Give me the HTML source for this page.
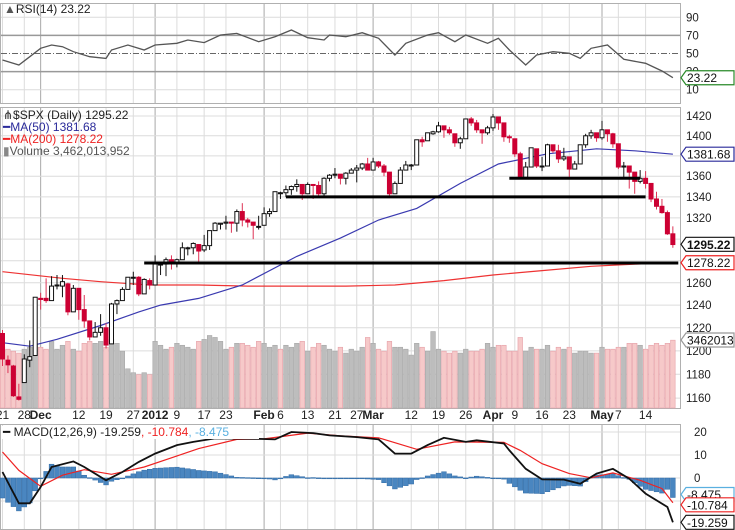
<!DOCTYPE html>
<html><head><meta charset="utf-8"><style>
html,body{margin:0;padding:0;background:#fff;}
svg{display:block;font-family:"Liberation Sans",sans-serif;}
</style></head><body>
<svg id="chart" width="735" height="530" viewBox="0 0 735 530" xmlns="http://www.w3.org/2000/svg"></svg>
<script>
// ---- data ----
const closes=[1193,1188,1162,1159,1193,1195,1247,
1245,1244,1257,1258,1261,1234,1255,1236,1226,1212,1216,1220,1205,1241,1244,1254,1265,1265,1250,1263,1258,
1277,1277,1281,1278,1281,1292,1292,1296,1289,1294,1308,1315,1315,1316,1315,1326,1318,1316,1313,1312,
1324,1326,1345,1344,1347,1350,1352,1343,1352,1351,1343,1358,1361,1362,1358,1363,1366,1368,1372,1366,
1374,1370,1364,1343,1353,1366,1371,1371,1396,1394,1403,1404,1410,1406,1403,1393,1397,1417,1413,1406,1403,1408,
1419,1413,1399,1398,1382,1359,1369,1388,1370,1370,1391,1385,1377,1379,1367,1372,1391,1400,1403,1398,
1406,1402,1392,1369,1370,1364,1355,1358,1353,1338,1331,1325,1305,1295];
const opens=[1215,1192,1187,1161,1173,1192,1196,
1246,1246,1244,1258,1257,1259,1234,1255,1236,1226,1212,1216,1220,1206,1241,1244,1254,1265,1265,1250,1262,
1258,1277,1277,1281,1278,1281,1292,1292,1295,1290,1294,1308,1314,1315,1316,1315,1326,1318,1316,1312,
1313,1324,1326,1344,1344,1347,1350,1352,1343,1352,1351,1343,1358,1361,1362,1358,1363,1366,1368,1372,
1366,1374,1370,1364,1343,1353,1366,1371,1371,1396,1395,1402,1404,1410,1406,1402,1393,1397,1417,1413,1406,1403,
1408,1419,1413,1399,1397,1382,1359,1369,1387,1370,1370,1391,1385,1377,1379,1367,1372,1391,1400,1403,
1398,1406,1402,1392,1369,1370,1364,1355,1358,1353,1338,1331,1325,1305];
const highs=[1218,1196,1188,1172,1197,1209,1247,
1251,1264,1266,1267,1267,1260,1258,1255,1249,1226,1225,1232,1224,1242,1245,1256,1265,1270,1266,1264,1264,
1285,1279,1283,1285,1282,1297,1293,1297,1295,1304,1308,1316,1315,1322,1316,1328,1334,1320,1314,1322,
1330,1329,1345,1345,1351,1351,1357,1352,1354,1351,1355,1359,1362,1368,1362,1364,1368,1371,1373,1378,
1378,1375,1372,1364,1355,1369,1375,1372,1396,1399,1403,1405,1414,1410,1409,1402,1399,1417,1419,1416,1404,1410,
1422,1419,1413,1401,1397,1384,1374,1388,1387,1379,1392,1391,1391,1388,1379,1375,1391,1402,1406,1403,
1415,1405,1403,1392,1374,1369,1363,1366,1365,1353,1345,1338,1327,1312];
const lows=[1187,1181,1161,1158,1173,1186,1196,
1236,1242,1244,1254,1247,1231,1234,1227,1220,1209,1212,1213,1202,1206,1232,1244,1254,1258,1248,1250,1254,
1258,1267,1266,1272,1274,1281,1285,1286,1277,1288,1290,1308,1309,1309,1306,1307,1312,1311,1300,1309,
1313,1321,1326,1338,1340,1342,1345,1337,1343,1338,1340,1341,1355,1358,1352,1352,1363,1354,1366,1366,
1366,1368,1360,1340,1343,1353,1366,1366,1371,1389,1395,1401,1403,1398,1401,1389,1387,1397,1410,1403,1392,1401,
1405,1406,1394,1393,1379,1357,1359,1369,1368,1365,1370,1383,1373,1375,1358,1367,1372,1388,1397,1394,
1396,1394,1388,1367,1357,1348,1343,1353,1348,1335,1328,1324,1304,1292];
const volumes=[3100,3000,2900,2800,3000,3100,3200,
3100,3000,3400,3000,3200,3400,3000,2900,3300,3400,3300,3400,3100,3500,3300,2900,2000,1800,1700,1800,1700,
3400,3200,3000,3100,3300,3200,3100,3000,3400,3500,3700,3600,3400,3000,3100,3300,3300,3200,3100,3400,
3300,3100,3200,3000,3200,3100,3300,3400,2900,3100,3300,3200,3000,2900,3100,2800,3000,2900,3100,3600,
3300,3000,2900,3400,3100,3100,3000,2700,3300,3100,2900,3900,3000,2900,2800,2900,2800,3000,2900,2900,3000,3300,
3100,3200,3200,2900,2900,3600,2900,3100,3000,3000,3200,2900,3100,3000,3100,2800,2900,2900,2800,2800,
3100,3000,3000,3100,3100,3300,3300,3200,3000,3200,3300,3200,3300,3460];
const ma50Idx=[0,5,10,18,25,29,36,44,54,62,69,76,84,91,100,109,116,123];
const ma50Val=[1207,1204,1210,1222,1234,1240,1246,1258,1284,1301,1318,1329,1353,1372,1382,1387,1385,1381.68];
const ma200Idx=[0,11,18,27,36,45,54,63,72,81,90,99,108,116,123];
const ma200Val=[1270,1264,1261,1258,1258,1257,1257,1257,1258,1262,1267,1271,1275,1277,1278.22];
const rsiIdx=[0,3,5,7,9,11,13,16,19,20,23,26,28,32,34,37,40,43,47,50,53,56,59,60,63,66,69,72,74,78,80,83,85,89,91,93,96,98,101,104,106,108,111,114,118,121,123];
const rsiVal=[42.8,37.3,46.5,55.7,59.4,57.5,52,46.5,44.6,53.9,59.4,53.9,59.4,61.3,64.9,62,70.4,72.2,63,68.6,76,67.5,64.9,70.4,68.6,73,66.8,48.3,61.3,70.4,73,63,70.4,61.3,66.8,53.9,37.3,48.3,52,50.2,44.6,55.7,59.4,43.6,39.2,30.7,23.22];
const macdIdx=[0,3,5,7,9,13,15,19,22,25,28,32,35,39,47,50,53,57,60,65,69,72,75,78,81,85,87,92,93,96,99,103,106,109,112,115,118,122,123];
const macdVal=[2.6,-11,-11,-3.9,4.8,7.2,4.8,-1,2.6,7,10.6,14.3,15.7,17.2,17,16.8,20,19.5,18.5,17.8,16.8,10.6,10.6,14.3,17.5,15.7,16.4,15,12,4,-0.6,-0.7,-2.5,1.9,4,-0.3,-6.8,-12.6,-19.259];
const sigIdx=[0,3,7,11,15,20,26,31,36,43,48,56,62,69,76,83,92,95,99,104,108,112,117,121,123];
const sigVal=[11.3,3.3,-3.6,1.2,3.6,1.6,4.8,8.8,12.8,16.8,17,19.5,18.3,17.5,12.5,15.7,15.5,12,6.2,1.9,0.1,2.2,-1,-4.6,-10.784];
const supportVal=[1278,1340,1358];
const supportFrom=[26,52,93];
const supportTo=[124,118,117];
const tickIdx=[0,4,7,14,19,24,28,32,37,41,48,51,56,61,65,68,75,80,85,90,94,99,104,110,113,118];
const tickLbl=["21","28","Dec","12","19","27","2012","9","17","23","Feb","6","13","21","27","Mar","12","19","26","Apr","9","16","23","May","7","14"];
const tickMajor=[0,0,1,0,0,0,1,0,0,0,1,0,0,0,0,1,0,0,0,1,0,0,0,1,0,0];
const priceTicks=[1160,1180,1200,1220,1240,1260,1280,1300,1320,1340,1360,1380,1400,1420];
const rsiTicks=[90,70,50,30,10];
const macdTicks=[20,10,0,-10];

// ---- scales ----
const R=680, N=closes.length;
const xs=i=>2.5+i*5.45;
const yP=v=>116+1395*Math.log(1420/v);
const yR=v=>17.3+(90-v)*0.905;
const yM=v=>478-v*2.3;
const yV=v=>408-v*0.0196;
const svg=document.getElementById('chart');
const NS='http://www.w3.org/2000/svg';
function mk(tag,attrs,parent){const e=document.createElementNS(NS,tag);for(const k in attrs)e.setAttribute(k,attrs[k]);(parent||svg).appendChild(e);return e;}
function interp(idx,val,i){if(i<=idx[0])return val[0];for(let k=1;k<idx.length;k++){if(i<=idx[k]){const t=(i-idx[k-1])/(idx[k]-idx[k-1]);return val[k-1]+t*(val[k]-val[k-1]);}}return val[val.length-1];}
function pathFrom(idx,val,yf){return idx.map((d,k)=>(k?'L':'M')+xs(d).toFixed(1)+','+yf(val[k]).toFixed(1)).join('');}

// ---- panel backgrounds / grids ----
const panels=[[3,103],[107,408],[424,529]];
panels.forEach((p,k)=>{const r=mk('rect',{x:0.5,y:p[0]+0.5,width:R,height:p[1]-p[0],fill:'#fff',stroke:'#b0b0b0'});

});
// vertical grid
tickIdx.forEach((d,k)=>{panels.forEach(p=>{const l=mk('line',{x1:xs(d),x2:xs(d),y1:p[0]+1,y2:p[1],stroke:tickMajor[k]?'#a8a8a8':'#dcdcdc','stroke-width':1});

});
const t=mk('text',{x:xs(d),y:419,'text-anchor':'middle','font-size':12,'font-weight':tickMajor[k]?'bold':'normal',fill:'#222'});t.textContent=tickLbl[k];

});
// price grid
priceTicks.forEach(v=>{const y=yP(v);const l=mk('line',{x1:1,x2:R,y1:y,y2:y,stroke:'#dcdcdc'});


if(v===1280||v===1300||v===1380)return;
const t=mk('text',{x:686,y:y+4,'font-size':11.5,fill:'#222'});t.textContent=v;

});
// rsi grid
rsiTicks.forEach(v=>{const y=yR(v);const l=mk('line',{x1:1,x2:R,y1:y,y2:y,stroke:(v===70||v===30)?'#999':'#dcdcdc','stroke-width':(v===70||v===30)?1.5:1,'stroke-dasharray':v===50?'6,2,1,2':'none'});
if(v===50)l.setAttribute('stroke','#666');


const t=mk('text',{x:686,y:y+4,'font-size':11.5,fill:'#222'});t.textContent=v;

});
// macd grid
macdTicks.forEach(v=>{const y=yM(v);const l=mk('line',{x1:1,x2:R,y1:y,y2:y,stroke:'#dcdcdc'});


if(v===-10)return;
const t=mk('text',{x:694,y:y+4,'font-size':11.5,fill:'#222'});t.textContent=v;

});

// ---- volume ----
volumes.forEach((v,i)=>{const up=i===0?false:closes[i]>=closes[i-1];const y=yV(v);
const r=mk('rect',{x:xs(i)-2.3,y:y,width:4.6,height:408-y,fill:up?'#bdbdbd':'#f6c9c9',stroke:up?'#a8a8a8':'#e6a0a8','stroke-width':0.6});

});

// ---- moving averages ----
let p=mk('path',{d:pathFrom(ma200Idx,ma200Val,yP),fill:'none',stroke:'#ee3333','stroke-width':1.2});


p=mk('path',{d:pathFrom(ma50Idx,ma50Val,yP),fill:'none',stroke:'#3a3ab0','stroke-width':1.2});



// ---- candles ----
closes.forEach((c,i)=>{const o=opens[i],x=xs(i);const up=c>=o;const col=up?'#111':'#cc0033';
const w=mk('line',{x1:x,x2:x,y1:yP(highs[i]),y2:yP(lows[i]),stroke:up?'#111':'#dd3355','stroke-width':1});


const yt=yP(Math.max(o,c)),yb=yP(Math.min(o,c));
const b=mk('rect',{x:x-2,y:yt,width:4,height:Math.max(1,yb-yt),fill:up?'#fff':'#cc0033',stroke:col,'stroke-width':1});

});

// ---- support lines ----
supportVal.forEach((v,k)=>{const l=mk('line',{x1:xs(supportFrom[k]),x2:Math.min(R,xs(supportTo[k])),y1:yP(v),y2:yP(v),stroke:'#000','stroke-width':3});

});

// ---- RSI ----
p=mk('path',{d:pathFrom(rsiIdx,rsiVal,yR),fill:'none',stroke:'#555','stroke-width':1.3});



// ---- MACD ----
for(let i=0;i<N;i++){const h=interp(macdIdx,macdVal,i)-interp(sigIdx,sigVal,i);const y0=yM(0),y1=yM(h);
const r=mk('rect',{x:xs(i)-2.4,y:Math.min(y0,y1),width:4.8,height:Math.max(0.8,Math.abs(y1-y0)),fill:'#4a86c0',stroke:'#2f6aa5','stroke-width':0.5});

}
p=mk('path',{d:pathFrom(sigIdx,sigVal,yM),fill:'none',stroke:'#ee2222','stroke-width':1.2});


p=mk('path',{d:pathFrom(macdIdx,macdVal,yM),fill:'none',stroke:'#111','stroke-width':1.8});



// ---- value tags on right axis ----
function tag(y,txt,col,bold,name){const g=mk('g',{});


mk('polygon',{points:`681,${y} 686,${y-7} 734,${y-7} 734,${y+7} 686,${y+7}`,fill:'#fff',stroke:col,'stroke-width':1.2},g);
const t=mk('text',{x:687,y:y+4.5,'font-size':12,fill:'#111','font-weight':bold?'bold':'normal'},g);t.textContent=txt;}
tag(yR(23.22),'23.22','#2a8a2a',false,'rsi-value-tag');
tag(yP(1381.68),'1381.68','#2a2a9a',false,'ma50-value-tag');
tag(yP(1295.22),'1295.22','#111',true,'price-value-tag');
tag(yP(1278.22),'1278.22','#ee2222',false,'ma200-value-tag');
tag(340,'3462013','#999',false,'volume-value-tag');
tag(yM(-8.475)-3,'-8.475','#5ab0e0',false,'histogram-value-tag');
tag(yM(-10.784)+2,'-10.784','#ee2222',false,'signal-value-tag');
tag(yM(-19.259),'-19.259','#111',false,'macd-value-tag');

// ---- legends ----
function leg(x,y,parts,name,bg){const g=mk('g',{});


if(bg)mk('rect',{x:bg[0],y:bg[1],width:bg[2],height:bg[3],fill:'#fff'},g);
const t=mk('text',{x:x,y:y,'font-size':12},g);parts.forEach(pp=>{const s=mk('tspan',{fill:pp[1]},t);s.textContent=pp[0];});}
leg(4,13,[['▲','#555'],['RSI(14) 23.22','#222']],'rsi-legend');
leg(3,119,[['⋔$SPX (Daily) 1295.22','#222']],'price-legend');
leg(3,131,[['━','#2a2a9a'],['MA(50) 1381.68','#2a2a9a']],'ma50-legend');
leg(3,143,[['━','#ee2222'],['MA(200) 1278.22','#ee2222']],'ma200-legend');
leg(3,155,[['▮','#888'],['Volume 3,462,013,952','#555']],'volume-legend');
leg(3,436,[['━ ','#111'],['MACD(12,26,9) -19.259','#222'],[', -10.784','#ee2222'],[', -8.475','#5ab0e0']],'macd-legend',[1,426,258,13]);
</script>
</body></html>
